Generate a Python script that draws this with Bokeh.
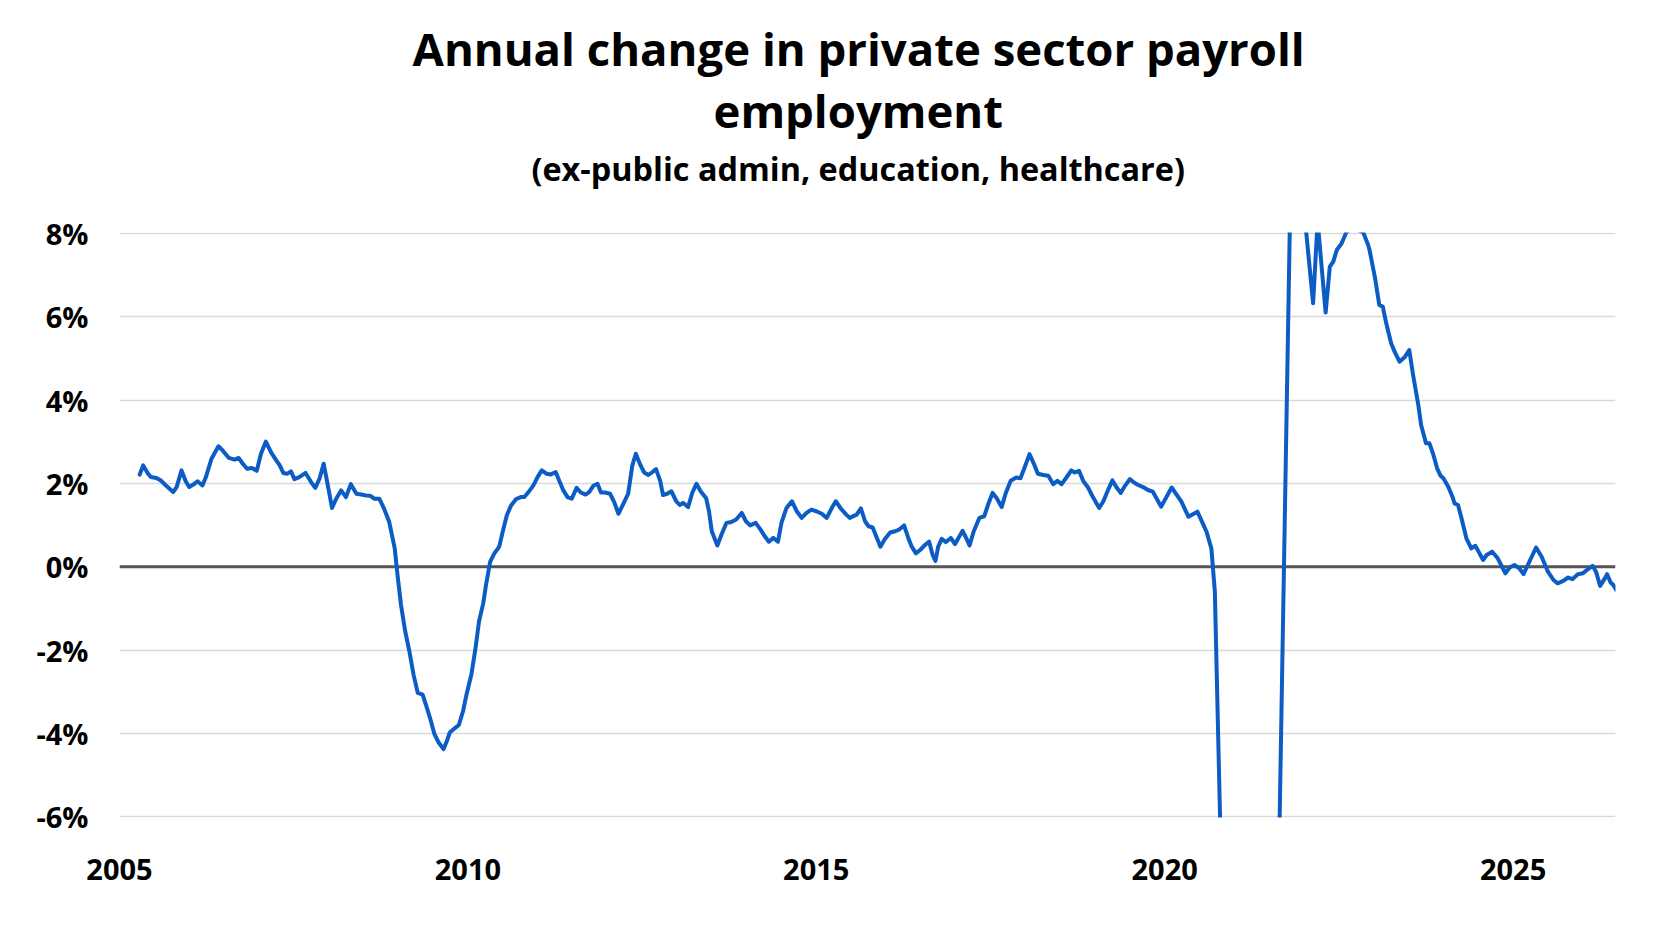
from bokeh.plotting import figure
from bokeh.models import Range1d, FixedTicker, Title, Span, LinearAxis
from bokeh.embed import file_html
from bokeh.resources import INLINE

title_line1 = "Annual change in private sector payroll"
title_line2 = "employment"
subtitle = "(ex-public admin, education, healthcare)"

x_ticks = [2005, 2010, 2015, 2020, 2025]
x_labels = ["2005", "2010", "2015", "2020", "2025"]
y_ticks = [-6, -4, -2, 0, 2, 4, 6, 8]
y_labels = ["-6%", "-4%", "-2%", "0%", "2%", "4%", "6%", "8%"]

years = [
    2005.29, 2005.34, 2005.41, 2005.45, 2005.53, 2005.60, 2005.67, 2005.77, 2005.82, 2005.89,
    2005.95, 2006.00, 2006.06, 2006.12, 2006.19, 2006.24, 2006.32, 2006.42, 2006.48, 2006.57,
    2006.65, 2006.71, 2006.77, 2006.83, 2006.90, 2006.97, 2007.03, 2007.10, 2007.18, 2007.25,
    2007.30, 2007.35, 2007.41, 2007.46, 2007.51, 2007.58, 2007.67, 2007.75, 2007.81, 2007.87,
    2007.93, 2007.99, 2008.05, 2008.11, 2008.18, 2008.25, 2008.32, 2008.40, 2008.47, 2008.54,
    2008.60, 2008.66, 2008.73, 2008.80, 2008.87, 2008.95, 2008.99, 2009.04, 2009.10, 2009.16,
    2009.22, 2009.28, 2009.35, 2009.42, 2009.47, 2009.52, 2009.58, 2009.65, 2009.70, 2009.74,
    2009.81, 2009.87, 2009.93, 2009.98, 2010.05, 2010.11, 2010.16, 2010.22, 2010.26, 2010.32,
    2010.38, 2010.45, 2010.50, 2010.56, 2010.62, 2010.69, 2010.76, 2010.81, 2010.87, 2010.94,
    2011.00, 2011.06, 2011.13, 2011.19, 2011.26, 2011.31, 2011.37, 2011.43, 2011.49, 2011.56,
    2011.62, 2011.69, 2011.74, 2011.80, 2011.86, 2011.91, 2011.97, 2012.04, 2012.10, 2012.16,
    2012.22, 2012.30, 2012.36, 2012.41, 2012.47, 2012.53, 2012.59, 2012.64, 2012.70, 2012.76,
    2012.80, 2012.86, 2012.92, 2012.99, 2013.04, 2013.09, 2013.16, 2013.22, 2013.28, 2013.34,
    2013.42, 2013.46, 2013.50, 2013.58, 2013.64, 2013.71, 2013.78, 2013.85, 2013.93, 2013.99,
    2014.05, 2014.13, 2014.20, 2014.26, 2014.32, 2014.38, 2014.45, 2014.50, 2014.57, 2014.65,
    2014.72, 2014.79, 2014.86, 2014.93, 2015.00, 2015.08, 2015.15, 2015.22, 2015.28, 2015.35,
    2015.43, 2015.48, 2015.58, 2015.64, 2015.70, 2015.75, 2015.81, 2015.87, 2015.92, 2015.98,
    2016.06, 2016.13, 2016.19, 2016.26, 2016.32, 2016.37, 2016.43, 2016.49, 2016.56, 2016.62,
    2016.67, 2016.71, 2016.75, 2016.80, 2016.86, 2016.93, 2016.99, 2017.04, 2017.10, 2017.15,
    2017.20, 2017.26, 2017.34, 2017.41, 2017.47, 2017.53, 2017.59, 2017.66, 2017.72, 2017.79,
    2017.87, 2017.93, 2017.99, 2018.06, 2018.12, 2018.18, 2018.26, 2018.33, 2018.40, 2018.46,
    2018.52, 2018.59, 2018.66, 2018.71, 2018.77, 2018.83, 2018.90, 2018.97, 2019.06, 2019.12,
    2019.19, 2019.25, 2019.31, 2019.37, 2019.43, 2019.50, 2019.56, 2019.62, 2019.69, 2019.76,
    2019.83, 2019.95, 2020.10, 2020.24, 2020.34, 2020.47, 2020.60, 2020.67, 2020.72, 2020.80,
    2020.88, 2021.00, 2021.20, 2021.40, 2021.55, 2021.64, 2021.82, 2021.92, 2022.03, 2022.13,
    2022.195, 2022.31, 2022.37, 2022.42, 2022.47, 2022.54, 2022.61, 2022.70, 2022.78, 2022.85,
    2022.92, 2022.94, 2023.02, 2023.08, 2023.13, 2023.18, 2023.25, 2023.30, 2023.37, 2023.45,
    2023.51, 2023.565, 2023.64, 2023.68, 2023.75, 2023.80, 2023.85, 2023.91, 2023.96, 2024.00,
    2024.07, 2024.13, 2024.16, 2024.21, 2024.26, 2024.33, 2024.40, 2024.46, 2024.57, 2024.62,
    2024.70, 2024.78, 2024.89, 2024.95, 2025.02, 2025.09, 2025.15, 2025.24, 2025.33, 2025.41,
    2025.50, 2025.58, 2025.64, 2025.72, 2025.79, 2025.85, 2025.93, 2026.00, 2026.06, 2026.14,
    2026.19, 2026.25, 2026.31, 2026.35, 2026.40, 2026.44, 2026.48,
]

change_pct = [
    2.21, 2.43, 2.23, 2.15, 2.13, 2.06, 1.94, 1.79, 1.91, 2.31,
    2.05, 1.91, 1.97, 2.05, 1.95, 2.15, 2.59, 2.89, 2.79, 2.61,
    2.57, 2.61, 2.47, 2.35, 2.37, 2.30, 2.71, 3.00, 2.73, 2.55,
    2.43, 2.25, 2.23, 2.29, 2.10, 2.15, 2.25, 2.03, 1.89, 2.11,
    2.47, 1.95, 1.41, 1.63, 1.83, 1.67, 1.98, 1.75, 1.73, 1.71,
    1.70, 1.63, 1.63, 1.38, 1.08, 0.44, -0.20, -0.92, -1.55, -2.03,
    -2.59, -3.03, -3.07, -3.43, -3.71, -4.02, -4.22, -4.38, -4.18, -3.98,
    -3.88, -3.80, -3.47, -3.07, -2.59, -1.95, -1.31, -0.88, -0.44, 0.12,
    0.32, 0.48, 0.84, 1.24, 1.47, 1.62, 1.67, 1.67, 1.79, 1.95,
    2.15, 2.31, 2.23, 2.21, 2.27, 2.07, 1.83, 1.67, 1.63, 1.89,
    1.78, 1.73, 1.79, 1.94, 1.99, 1.78, 1.78, 1.75, 1.55, 1.27,
    1.47, 1.75, 2.43, 2.71, 2.46, 2.26, 2.20, 2.26, 2.34, 2.06,
    1.72, 1.75, 1.81, 1.57, 1.48, 1.53, 1.43, 1.77, 1.99, 1.81,
    1.64, 1.33, 0.85, 0.51, 0.77, 1.05, 1.07, 1.13, 1.29, 1.09,
    0.99, 1.05, 0.89, 0.73, 0.60, 0.69, 0.60, 1.05, 1.40, 1.57,
    1.33, 1.17, 1.29, 1.37, 1.33, 1.27, 1.17, 1.40, 1.57, 1.40,
    1.25, 1.17, 1.25, 1.40, 1.09, 0.97, 0.94, 0.69, 0.48, 0.65,
    0.82, 0.85, 0.89, 0.99, 0.69, 0.48, 0.32, 0.40, 0.52, 0.60,
    0.28, 0.14, 0.48, 0.67, 0.59, 0.69, 0.54, 0.69, 0.86, 0.69,
    0.51, 0.85, 1.17, 1.21, 1.51, 1.77, 1.64, 1.43, 1.77, 2.06,
    2.14, 2.12, 2.38, 2.70, 2.48, 2.23, 2.20, 2.18, 1.98, 2.06,
    1.98, 2.14, 2.31, 2.26, 2.30, 2.06, 1.90, 1.67, 1.41, 1.57,
    1.85, 2.07, 1.90, 1.77, 1.94, 2.10, 2.02, 1.96, 1.91, 1.84,
    1.80, 1.44, 1.90, 1.56, 1.20, 1.32, 0.84, 0.44, -0.60, -6.40,
    -16.5, -14.0, -11.5, -9.0, -7.8, -7.0, 10.5, 11.0, 8.05, 6.32,
    8.30, 6.10, 7.20, 7.32, 7.60, 7.76, 8.04, 8.12, 8.08, 8.02,
    7.72, 7.60, 6.92, 6.28, 6.24, 5.84, 5.36, 5.16, 4.92, 5.04,
    5.20, 4.60, 3.88, 3.40, 2.96, 2.96, 2.72, 2.36, 2.18, 2.12,
    1.92, 1.68, 1.52, 1.48, 1.16, 0.68, 0.44, 0.50, 0.16, 0.28,
    0.36, 0.20, -0.16, -0.02, 0.04, -0.04, -0.18, 0.14, 0.46, 0.24,
    -0.12, -0.32, -0.40, -0.34, -0.26, -0.30, -0.18, -0.16, -0.08, 0.02,
    -0.12, -0.46, -0.30, -0.18, -0.38, -0.44, -0.56,
]

FONT = "Open Sans"

p = figure(
    width=1656, height=910,
    x_range=Range1d(2005, 2026.47),
    y_range=Range1d(-6.02, 8.02),
    output_backend="svg", toolbar_location=None,
    min_border_left=119, min_border_right=41, min_border_bottom=93, min_border_top=232,
)
p.outline_line_color = None
p.background_fill_color = "white"
p.border_fill_color = "white"

xaxis = p.below[0]
yaxis = p.left[0]

xaxis.ticker = FixedTicker(ticks=x_ticks)
xaxis.major_label_overrides = dict(zip(x_ticks, x_labels))
yaxis.ticker = FixedTicker(ticks=y_ticks)
yaxis.major_label_overrides = dict(zip(y_ticks, y_labels))
for ax in (xaxis, yaxis):
    ax.axis_line_color = None
    ax.major_tick_line_color = None
    ax.minor_tick_line_color = None
    ax.major_tick_out = 0
    ax.major_tick_in = 0
    ax.major_label_text_font = FONT
    ax.major_label_text_font_size = "29px"
    ax.major_label_text_font_style = "bold"
    ax.major_label_text_color = "#000000"
xaxis.major_label_standoff = 41
yaxis.major_label_standoff = 31

# blank spacer between the plot frame and the subtitle: one hidden tick, no label text
spacer_tick = [x_ticks[2]]
spacer = LinearAxis(ticker=FixedTicker(ticks=spacer_tick), axis_line_color=None,
                    major_tick_line_color=None, minor_tick_line_color=None,
                    major_tick_in=0, major_tick_out=41, minor_tick_out=0,
                    major_label_standoff=0, major_label_text_font_size="1px",
                    major_label_overrides={spacer_tick[0]: ""})
p.add_layout(spacer, "above")

t_sub = Title(text=subtitle, align="left", offset=412, text_font=FONT, text_font_size="32.4px",
              text_font_style="bold", text_color="#000000", standoff=4)
t2 = Title(text=title_line2, align="left", offset=594, text_font=FONT, text_font_size="45.5px",
           text_font_style="bold", text_color="#000000", standoff=1)
t1 = Title(text=title_line1, align="left", offset=293, text_font=FONT, text_font_size="45.5px",
           text_font_style="bold", text_color="#000000", standoff=-5)
p.add_layout(t_sub, "above")
p.add_layout(t2, "above")
p.add_layout(t1, "above")

p.xgrid.visible = False
p.ygrid.ticker = FixedTicker(ticks=y_ticks)
p.ygrid.grid_line_color = "#d9d9d9"
p.ygrid.grid_line_width = 1.5

zero = Span(location=0, dimension="width", line_color="#555555", line_width=3, level="underlay")
p.add_layout(zero)

p.line(years, change_pct, line_color="#0B5CC5", line_width=4, line_join="round", line_cap="round")

open("out.html", "w").write(file_html(p, INLINE))
